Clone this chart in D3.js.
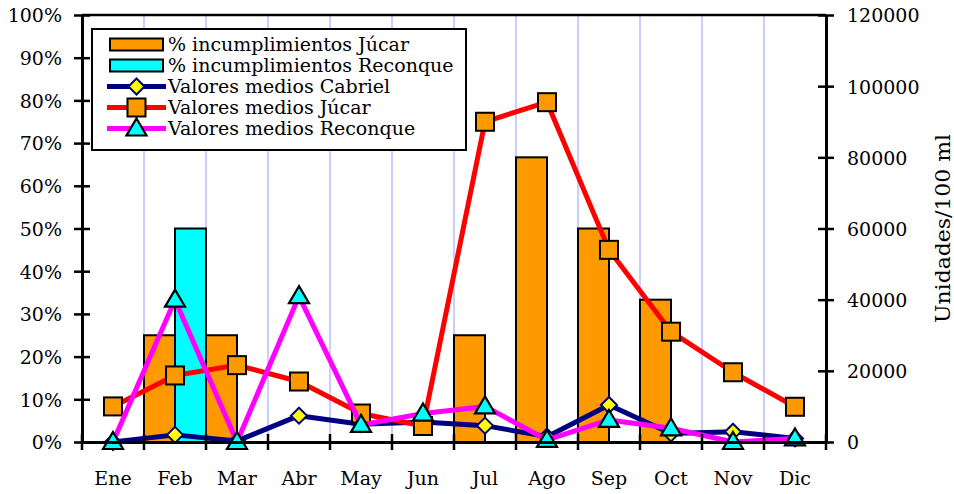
<!DOCTYPE html>
<html><head><meta charset="utf-8">
<script src="https://cdn.jsdelivr.net/npm/d3@7"></script>
<style>
html,body{margin:0;padding:0;background:#fff;}
svg{display:block;font-family:"DejaVu Serif",serif;}
</style></head>
<body>
<svg id="chart" width="954" height="494"></svg>
<script>
const months = ["Ene","Feb","Mar","Abr","May","Jun","Jul","Ago","Sep","Oct","Nov","Dic"];
const incJucar = [0,0.25,0.25,0,0,0,0.25,0.6667,0.5,0.3333,0,0];
const incReconque = [0,0.5,0,0,0,0,0,0,0,0,0,0];
const mediosCabriel = [0,2000,300,7400,5000,5600,4600,1500,10400,2400,2900,1000];
const mediosJucar = [10000,18700,21600,17000,8000,4500,90000,95500,54000,31000,19600,9900];
const mediosReconque = [0,40000,0,41000,4800,8000,10000,600,6200,3850,0,1000];
const leftTicks = [0,0.1,0.2,0.3,0.4,0.5,0.6,0.7,0.8,0.9,1];
const rightTicks = [0,20000,40000,60000,80000,100000,120000];
const legendLabels = ["% incumplimientos Júcar","% incumplimientos Reconque","Valores medios Cabriel","Valores medios Júcar","Valores medios Reconque"];
const rightTitle = "Unidades/100 ml";

const L = 82, R = 826, T = 15, B = 442;
const FONT = "DejaVu Serif";
const FS = 19;
const svg = d3.select("#chart");

const x = d3.scaleBand().domain(months).range([L, R]).padding(0);
const sub = d3.scaleBand().domain(["J","R"]).range([0, x.bandwidth()]).padding(0);
const yL = d3.scaleLinear().domain([0,1]).range([B, T]);
const yR = d3.scaleLinear().domain([0,120000]).range([B, T]);

// gridlines at category boundaries
svg.append("g").selectAll("line").data(months.slice(1)).join("line")
  .attr("x1", d => x(d)).attr("x2", d => x(d))
  .attr("y1", T).attr("y2", B)
  .attr("stroke", "#ccccff").attr("stroke-width", 2);

// bars
const barG = svg.append("g");
barG.selectAll("rect.j").data(months).join("rect").attr("class","j")
  .attr("x", d => x(d) + sub("J")).attr("width", sub.bandwidth())
  .attr("y", (d,i) => yL(incJucar[i])).attr("height", (d,i) => B - yL(incJucar[i]))
  .attr("fill", "#ff9900").attr("stroke", "#000").attr("stroke-width", 2);
barG.selectAll("rect.r").data(months).join("rect").attr("class","r")
  .attr("x", d => x(d) + sub("R")).attr("width", sub.bandwidth())
  .attr("y", (d,i) => yL(incReconque[i])).attr("height", (d,i) => B - yL(incReconque[i]))
  .attr("fill", "#00ffff").attr("stroke", "#000").attr("stroke-width", 2);

// marker shapes
function drawMarker(g, type, cx, cy) {
  if (type === "diamond") {
    g.append("path").attr("d", `M${cx},${cy-8}L${cx+8},${cy}L${cx},${cy+8}L${cx-8},${cy}Z`)
      .attr("fill", "#ffff00").attr("stroke", "#000080").attr("stroke-width", 2);
  } else if (type === "square") {
    g.append("rect").attr("x", cx-9).attr("y", cy-9).attr("width", 18).attr("height", 18)
      .attr("fill", "#ff9900").attr("stroke", "#000").attr("stroke-width", 2);
  } else {
    g.append("path").attr("d", `M${cx},${cy-10}L${cx+10},${cy+7}L${cx-10},${cy+7}Z`)
      .attr("fill", "#00ffff").attr("stroke", "#000").attr("stroke-width", 2.2)
      .attr("stroke-linejoin","miter");
  }
}

const series = [
  {vals: mediosCabriel, color: "#000080", marker: "diamond"},
  {vals: mediosJucar, color: "#ff0000", marker: "square"},
  {vals: mediosReconque, color: "#ff00ff", marker: "triangle"}
];
const line = d3.line().x(d => x(d.m) + x.bandwidth()/2).y(d => yR(d.v));
series.forEach(s => {
  const g = svg.append("g");
  const pts = months.map((m,i) => ({m, v: s.vals[i]}));
  g.append("path").datum(pts).attr("d", line).attr("fill","none")
    .attr("stroke", s.color).attr("stroke-width", 5).attr("stroke-linejoin","round");
  pts.forEach(p => drawMarker(g, s.marker, x(p.m) + x.bandwidth()/2, yR(p.v)));
});

// plot border top
svg.append("line").attr("x1", L).attr("x2", R).attr("y1", T).attr("y2", T)
  .attr("stroke", "#000").attr("stroke-width", 2.5);

function styleAxis(g) {
  g.attr("font-family", FONT).attr("font-size", FS);
  g.selectAll("line").attr("stroke", "#000").attr("stroke-width", 2.5);
  g.selectAll("path.domain").attr("stroke", "#000").attr("stroke-width", 3);
  g.selectAll("text").attr("fill", "#000");
}

// left axis
const gl = svg.append("g").attr("transform", `translate(${L},0)`)
  .call(d3.axisLeft(yL).tickValues(leftTicks).tickFormat(d3.format(".0%")).tickSize(8).tickSizeOuter(0).tickPadding(12));
styleAxis(gl);
gl.selectAll("text").attr("dy", "0.36em");
const gl2 = svg.append("g").attr("transform", `translate(${L},0)`)
  .call(d3.axisRight(yL).tickValues(leftTicks).tickFormat("").tickSize(8).tickSizeOuter(0));
styleAxis(gl2);

// right axis
const gr = svg.append("g").attr("transform", `translate(${R},0)`)
  .call(d3.axisRight(yR).tickValues(rightTicks).tickFormat(d3.format("d")).tickSize(8).tickSizeOuter(0).tickPadding(13));
styleAxis(gr);
gr.selectAll("text").attr("dy", "0.36em");
const gr2 = svg.append("g").attr("transform", `translate(${R},0)`)
  .call(d3.axisLeft(yR).tickValues(rightTicks).tickFormat("").tickSize(8).tickSizeOuter(0));
styleAxis(gr2);

// bottom axis
const boundaries = months.map(m => x(m)).concat([R]);
const gb = svg.append("g").attr("transform", `translate(0,${B})`)
  .call(d3.axisBottom(x).tickSize(0).tickSizeOuter(0));
styleAxis(gb);
gb.selectAll("text").attr("dy", null).attr("y", 43);
const tickG = svg.append("g");
tickG.selectAll("line").data(boundaries).join("line")
  .attr("x1", d => d).attr("x2", d => d).attr("y1", B - 8).attr("y2", B + 8)
  .attr("stroke", "#000").attr("stroke-width", 2.5);

// right title
svg.append("text").attr("transform", `translate(950,${(T+B)/2}) rotate(-90)`)
  .attr("text-anchor", "middle").attr("font-family", FONT).attr("font-size", 20)
  .attr("textLength", 189).attr("lengthAdjust", "spacingAndGlyphs")
  .text(rightTitle);

// legend
const lg = svg.append("g");
lg.append("rect").attr("x", 92).attr("y", 29).attr("width", 374).attr("height", 121)
  .attr("fill", "#fff").attr("stroke", "#000").attr("stroke-width", 2);
const legY = i => 44.5 + i * 21;
const barFills = ["#ff9900", "#00ffff"];
legendLabels.forEach((lab, i) => {
  const cy = legY(i);
  if (i < 2) {
    lg.append("rect").attr("x", 110).attr("y", cy - 6).attr("width", 53).attr("height", 12)
      .attr("fill", barFills[i]).attr("stroke", "#000").attr("stroke-width", 2);
  } else {
    const s = series[i - 2];
    lg.append("line").attr("x1", 107).attr("x2", 166).attr("y1", cy).attr("y2", cy)
      .attr("stroke", s.color).attr("stroke-width", 5);
    drawMarker(lg, s.marker, 136.5, cy);
  }
  lg.append("text").attr("x", 168).attr("y", cy).attr("dy", "0.36em")
    .attr("font-family", FONT).attr("font-size", FS).text(lab);
});
</script>
</body></html>
